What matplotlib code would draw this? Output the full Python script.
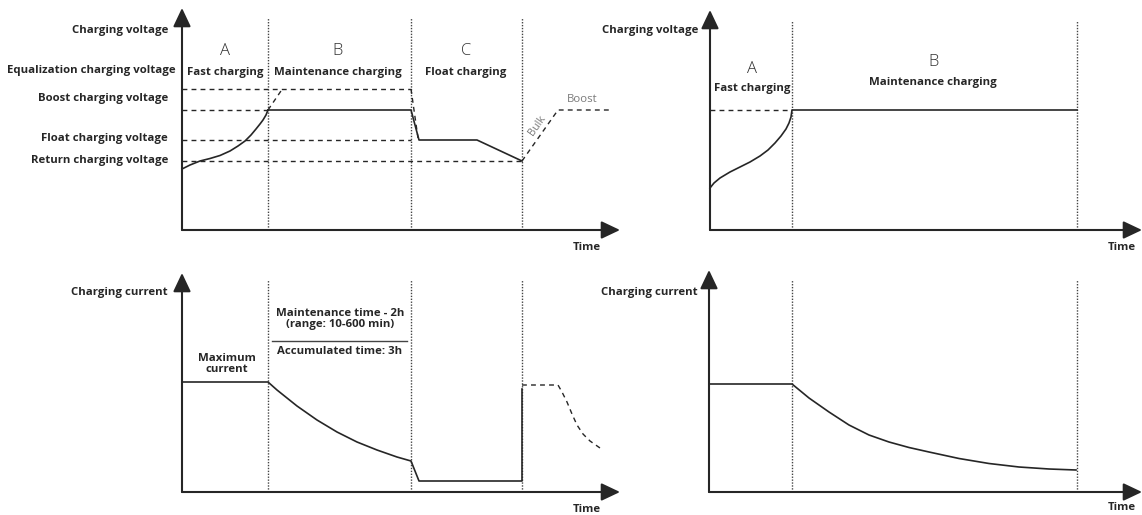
import matplotlib
matplotlib.use("Agg")
import matplotlib.pyplot as plt

W, H = 1142, 515
INK = "#262626"
GRAY = "#7a7a7a"
FONT = "Open Sans"
FS = 8.2

# ---------------- data (schematic units) ----------------
# Top-left: charging voltage vs time
tl_bounds = [86, 229, 340]
tl_level_names = ["Equalization charging voltage", "Boost charging voltage",
                  "Float charging voltage", "Return charging voltage"]
tl_level_values = [141, 120, 90, 69]
tl_level_dash_end = [229, 86, 229, 340]
tlA_t = [0, 8, 18, 28, 38, 48, 56, 63, 69, 74, 78, 81, 84, 86]
tlA_v = [61, 65, 69, 71.5, 74.5, 79, 84, 89, 95, 101, 106, 110, 115, 120]
tlBC_t = [86, 229, 237, 295, 340]
tlBC_v = [120, 120, 90, 90, 69]
tl_ext_t = [86, 101]
tl_ext_v = [120, 142]
tl_eqdrop_t = [229, 236]
tl_eqdrop_v = [141, 92]
tl_next_t = [340, 376, 428]
tl_next_v = [69, 120, 120]
tl_phase_letters = ["A", "B", "C"]
tl_phase_names = ["Fast charging", "Maintenance charging", "Float charging"]

# Bottom-left: charging current vs time
bl_bounds = [86, 229, 340]
bl_t = [0, 86, 95, 105, 115, 125, 135, 145, 155, 165, 175, 185, 195, 205, 215,
        229, 237, 340, 340]
bl_i = [110, 110, 102, 94, 86, 79, 72, 66, 60, 55, 50, 46, 42, 38.5, 35,
        31, 11, 11, 103]
bl_next_t = [340, 376, 380, 385, 390, 395, 401, 408, 418]
bl_next_i = [107, 107, 100, 90, 78, 67, 58, 51, 44]

# Top-right: charging voltage vs time
tr_bounds = [82, 367]
tr_t = [0, 4, 10, 20, 30, 40, 50, 58, 65, 71, 76, 79, 81, 82, 367]
tr_v = [42, 47, 52, 58, 63, 68, 74, 80, 87, 94, 101, 107, 113, 120, 120]
tr_level = 120
tr_phase_letters = ["A", "B"]
tr_phase_names = ["Fast charging", "Maintenance charging"]

# Bottom-right: charging current vs time
br_bounds = [83, 368]
br_t = [0, 83, 100, 120, 140, 160, 180, 200, 220, 250, 280, 310, 340, 367]
br_i = [108, 108, 94, 80, 67, 57, 50, 44.5, 40, 33.5, 28.5, 25, 23, 22]

# ---------------- figure ----------------
fig = plt.figure(figsize=(W / 100, H / 100), dpi=100)
fig.patch.set_facecolor("white")


def make_axes(x0, x1, yb, yt):
    ax = fig.add_axes([x0 / W, 1 - yb / H, (x1 - x0) / W, (yb - yt) / H])
    ax.set_xlim(0, x1 - x0)
    ax.set_ylim(0, yb - yt)
    ax.axis("off")
    w, h = x1 - x0, yb - yt
    arrow = dict(arrowstyle="-|>,head_length=0.95,head_width=0.45", lw=1.5,
                 color=INK, shrinkA=0, shrinkB=0, mutation_scale=12)
    ax.annotate("", xy=(0, h), xytext=(0, 0), arrowprops=arrow, annotation_clip=False)
    ax.annotate("", xy=(w, 0), xytext=(0, 0), arrowprops=arrow, annotation_clip=False)
    return ax


def label(ax, x, y, s, ha="right", size=FS, weight="bold", color=INK, **kw):
    ax.text(x, y, s, ha=ha, va="center", fontsize=size, fontweight=weight,
            color=color, family=FONT, clip_on=False, **kw)


def dotted(ax, x, top):
    ax.plot([x, x], [0, top], color="#444444", lw=1.0, ls=(0, (1, 1.1)),
            clip_on=False)


dash = dict(color=INK, lw=1.0, ls=(0, (3.5, 3.0)), clip_on=False)
solid = dict(color=INK, lw=1.2, clip_on=False, solid_joinstyle="round")

# ---- top-left ----
ax = make_axes(182, 620, 230, 8)
for b in tl_bounds:
    dotted(ax, b, 212)
for v, e in zip(tl_level_values, tl_level_dash_end):
    ax.plot([0, e], [v, v], **dash)
ax.plot(tlA_t, tlA_v, **solid)
ax.plot(tlBC_t, tlBC_v, **solid)
ax.plot(tl_ext_t, tl_ext_v, **dash)
ax.plot(tl_eqdrop_t, tl_eqdrop_v, **dash)
ax.plot(tl_next_t, tl_next_v, **dash)
label(ax, -14, 199, "Charging voltage")
label(ax, -6, 160, tl_level_names[0])
label(ax, -14, 132, tl_level_names[1])
label(ax, -14, 91, tl_level_names[2])
label(ax, -14, 70, tl_level_names[3])
for x, letter, name in zip([43, 156, 284], tl_phase_letters, tl_phase_names):
    label(ax, x, 179, letter, ha="center", size=12, weight="light", color="#333333")
    label(ax, x, 158, name, ha="center")
ax.text(355, 104, "Bulk", rotation=55, ha="center", va="center", fontsize=7.8,
        color=GRAY, family=FONT, clip_on=False)
label(ax, 385, 131, "Boost", ha="left", size=8.2, weight="normal", color=GRAY)
label(ax, 405, -18, "Time", ha="center")

# ---- bottom-left ----
ax = make_axes(182, 620, 492, 273)
for b in bl_bounds:
    dotted(ax, b, 212)
ax.plot(bl_t, bl_i, **solid)
ax.plot(bl_next_t, bl_next_i, **dash)
ax.plot([90, 225], [151, 151], color="#444444", lw=1.0, clip_on=False)
label(ax, -14, 199, "Charging current")
ax.text(45, 128, "Maximum\ncurrent", ha="center", va="center", fontsize=FS,
        fontweight="bold", color=INK, family=FONT, linespacing=0.95)
ax.text(158, 173, "Maintenance time - 2h\n(range: 10-600 min)", ha="center",
        va="center", fontsize=FS, fontweight="bold", color=INK, family=FONT,
        linespacing=0.95)
label(ax, 158, 140, "Accumulated time: 3h", ha="center")
label(ax, 405, -18, "Time", ha="center")

# ---- top-right ----
ax = make_axes(710, 1142, 230, 10)
for b in tr_bounds:
    dotted(ax, b, 210)
ax.plot([0, tr_bounds[0]], [tr_level, tr_level], **dash)
ax.plot(tr_t, tr_v, **solid)
label(ax, -12, 199, "Charging voltage")
for x, y, letter, name in zip([42, 223], [161, 168], tr_phase_letters, tr_phase_names):
    label(ax, x, y, letter, ha="center", size=12, weight="light", color="#333333")
    label(ax, x, y - 20, name, ha="center")
label(ax, 412, -18, "Time", ha="center")

# ---- bottom-right ----
ax = make_axes(709, 1142, 492, 270)
for b in br_bounds:
    dotted(ax, b, 212)
ax.plot(br_t, br_i, **solid)
label(ax, -11, 200, "Charging current")
label(ax, 413, -16, "Time", ha="center")

fig.savefig("out.png", dpi=100, facecolor="white")
